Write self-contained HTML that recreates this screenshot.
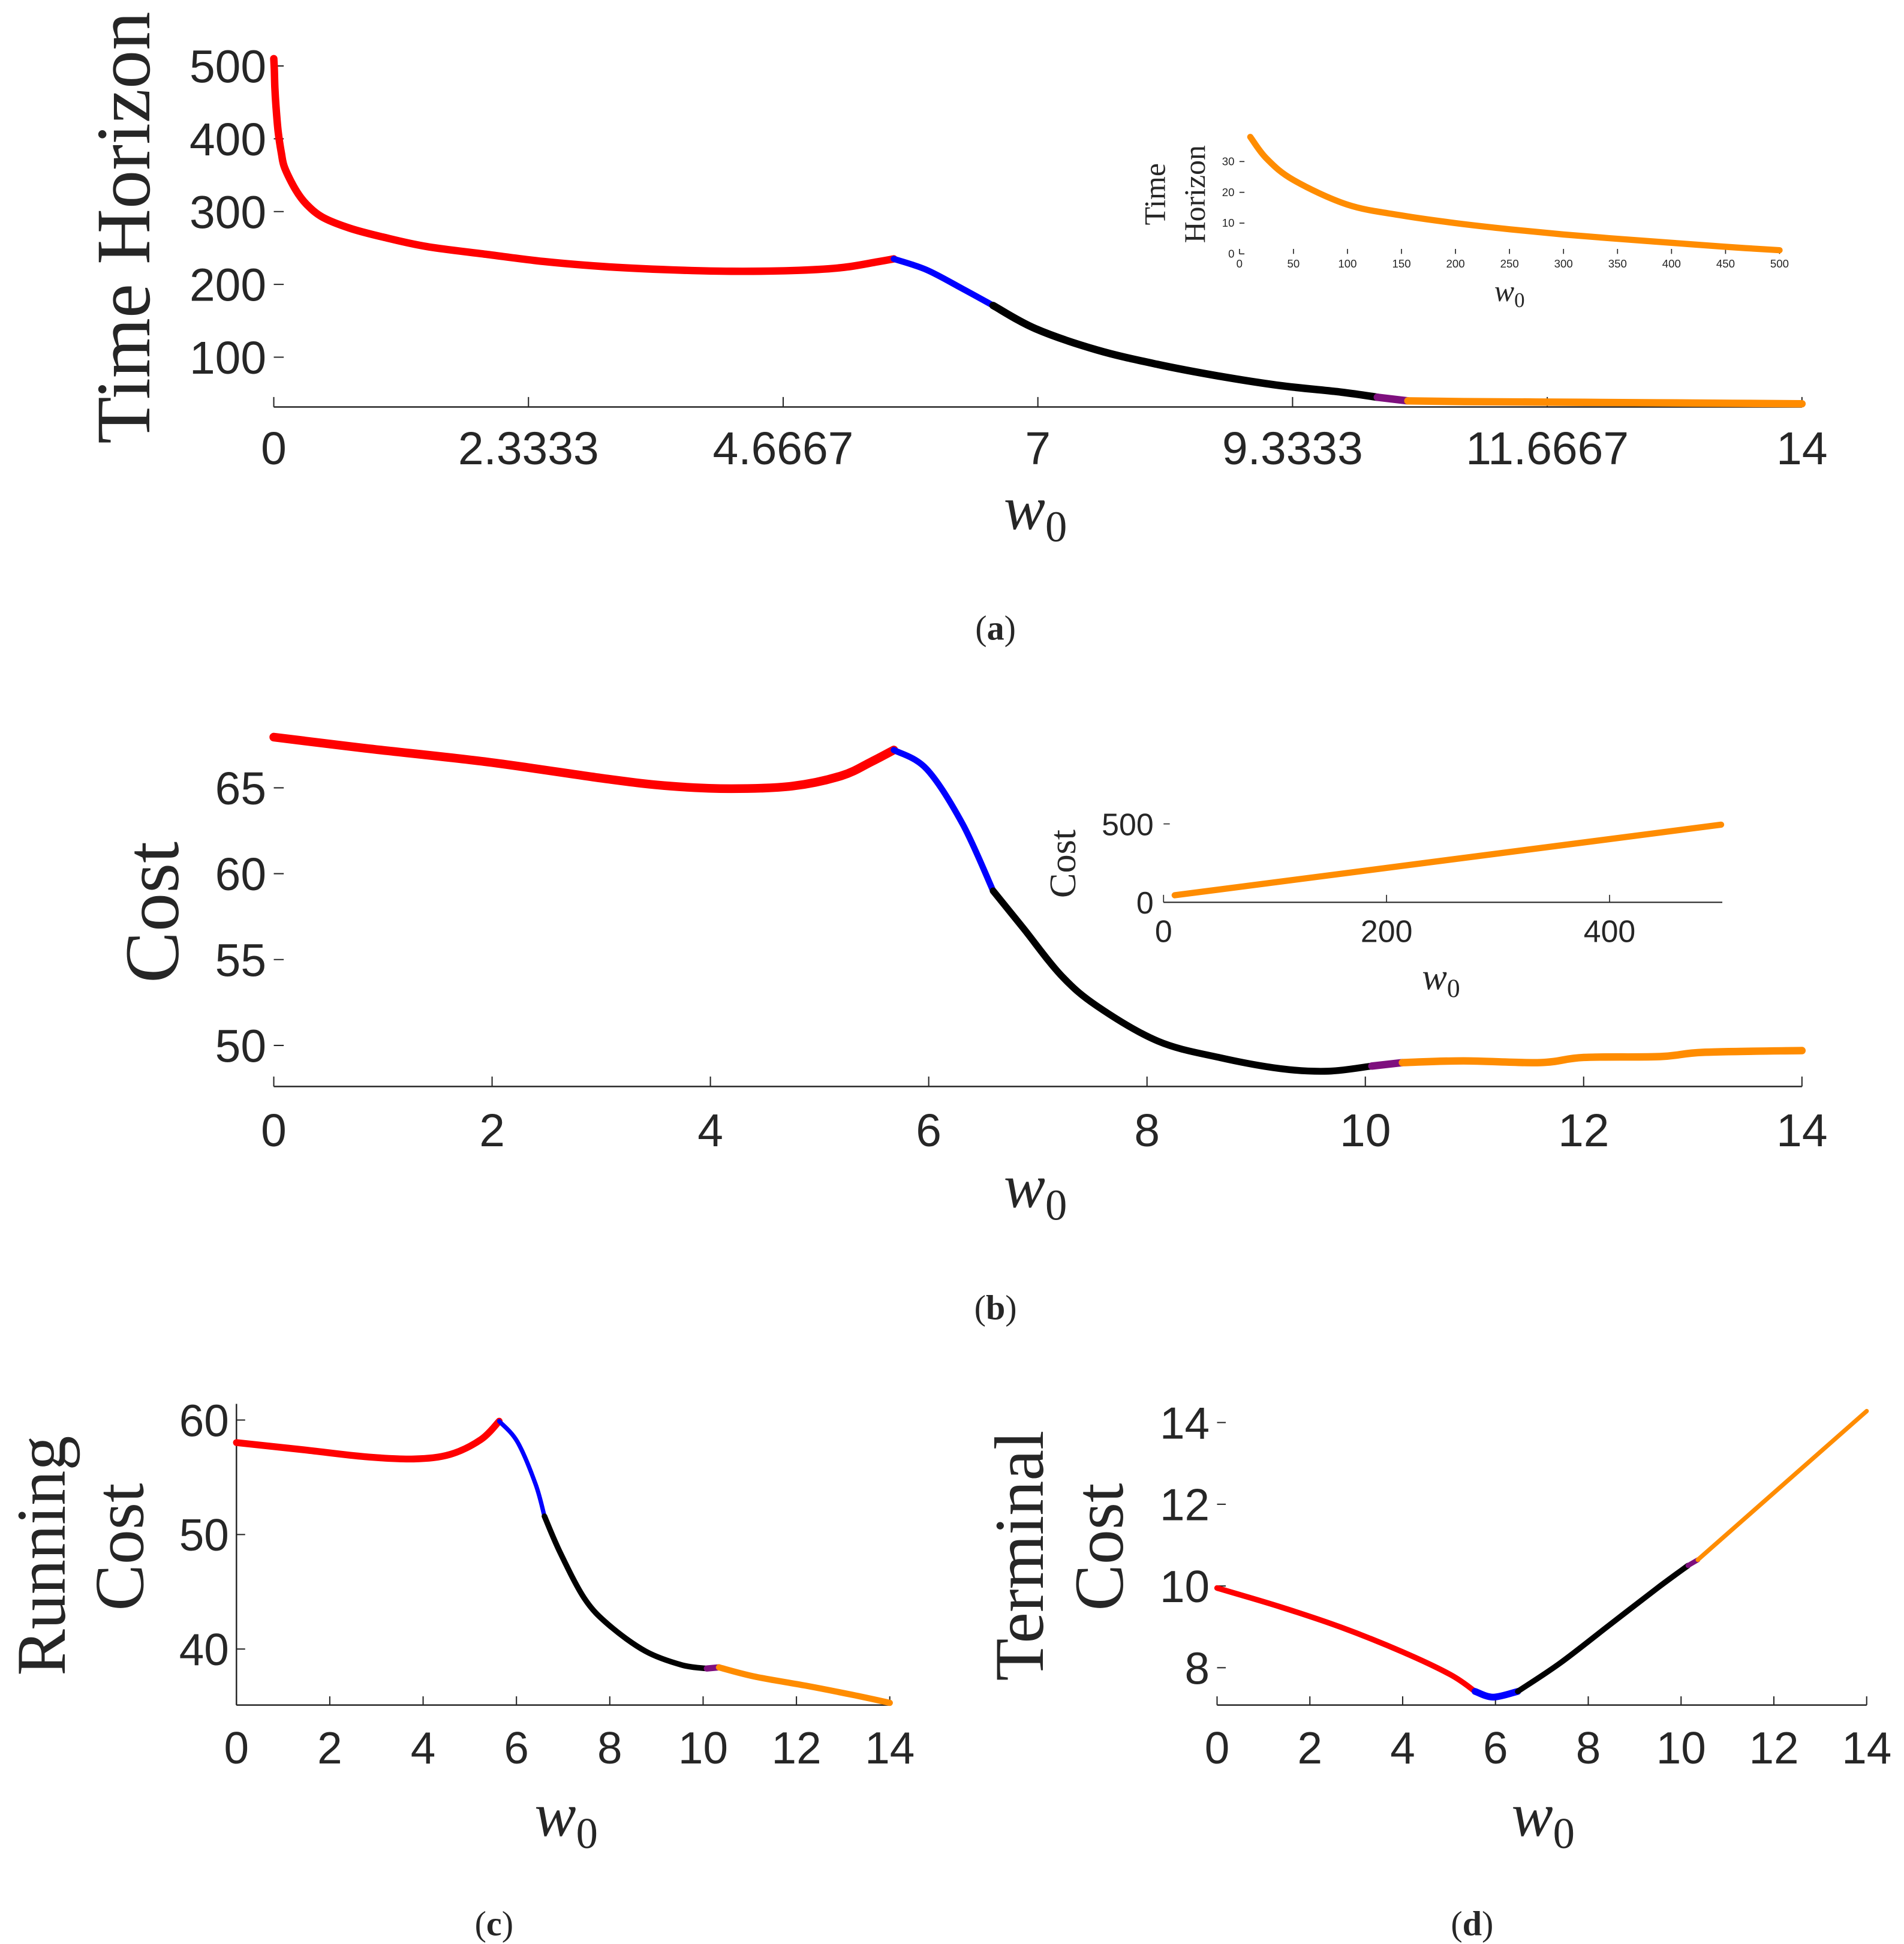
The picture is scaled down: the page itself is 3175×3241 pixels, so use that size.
<!DOCTYPE html>
<html><head><meta charset="utf-8"><style>
html,body{margin:0;padding:0;background:#fff}
svg{display:block}
text{font-family:"Liberation Sans",sans-serif;fill:#262626}
.lab{font-family:"Liberation Serif",serif;fill:#262626}
</style></head><body>
<svg id="fig" width="3175" height="3241" viewBox="0 0 1530 1562" preserveAspectRatio="none" xmlns="http://www.w3.org/2000/svg"></svg>
<script>
// ---- Panel (a) Time Horizon ----
const aRedX=[0,0.005,0.01,0.02,0.04,0.07,0.1,0.2,0.3,0.45,0.7,1.0,1.4,1.96,2.5,3.07,3.63,4.19,4.75,5.2,5.53,5.68];
const aRedY=[510,495,470,445,410,380,360,330,310,292,277,265,252,241,231,224,220,218,219,223,231,235];
const aBlueX=[5.68,5.98,6.31,6.59];
const aBlueY=[235,220,194,171];
const aBlackX=[6.59,6.98,7.54,8.1,8.66,9.22,9.78,10.11];
const aBlackY=[171,139,110,90,74,61,52,45];
const aPurpleX=[10.11,10.39];
const aPurpleY=[45,40];
const aOrangeX=[10.39,10.9,12,13,14];
const aOrangeY=[40,39,38,37,36];
const aTicksX=[0,2.3333,4.6667,7,9.3333,11.6667,14];
const aTickLabelsX=["0","2.3333","4.6667","7","9.3333","11.6667","14"];
const aTicksY=[100,200,300,400,500];
// inset (a)
const aiX=[10,25,50,100,150,200,250,300,350,400,450,500];
const aiY=[38,31,24,16,12.5,10,8,6.3,4.9,3.6,2.3,1.2];
const aiTicksX=[0,50,100,150,200,250,300,350,400,450,500];
const aiTicksY=[0,10,20,30];
// ---- Panel (b) Cost ----
const bRedX=[0,0.84,1.96,3.07,3.63,4.19,4.75,5.2,5.47,5.68];
const bRedY=[67.95,67.3,66.5,65.5,65.1,64.95,65.1,65.7,66.5,67.2];
const bBlueX=[5.68,5.98,6.31,6.59];
const bBlueY=[67.2,66.1,62.9,59];
const bBlackX=[6.59,6.87,7.21,7.54,8.1,8.66,9.22,9.66,10.06];
const bBlackY=[59,56.8,54.1,52.3,50.25,49.3,48.65,48.5,48.8];
const bPurpleX=[10.06,10.34];
const bPurpleY=[48.8,49.0];
const bOrangeX=[10.34,10.9,11.6,12.0,12.7,13.1,14];
const bOrangeY=[49.0,49.1,49.0,49.3,49.35,49.6,49.7];
const bTicksX=[0,2,4,6,8,10,12,14];
const bTicksY=[50,55,60,65];
const biX=[10,500];
const biY=[45,495];
const biTicksX=[0,200,400];
const biTicksY=[0,500];
// ---- Panel (c) Running Cost ----
const cRedX=[0,1.44,2.75,3.8,4.58,5.24,5.63];
const cRedY=[58.03,57.4,56.8,56.6,57.0,58.3,59.9];
const cBlueX=[5.63,6.02,6.41,6.6];
const cBlueY=[59.9,58.1,54.4,51.6];
const cBlackX=[6.6,6.94,7.46,7.98,8.77,9.55,10.08];
const cBlackY=[51.6,48.4,44.4,42.1,39.8,38.6,38.3];
const cPurpleX=[10.08,10.34];
const cPurpleY=[38.3,38.4];
const cOrangeX=[10.34,11.1,12.2,13.2,14];
const cOrangeY=[38.4,37.6,36.8,36.0,35.3];
const cTicksX=[0,2,4,6,8,10,12,14];
const cTicksY=[40,50,60];
// ---- Panel (d) Terminal Cost ----
const dRedX=[0,1.36,2.67,3.99,5.03,5.56];
const dRedY=[9.95,9.49,8.99,8.39,7.83,7.42];
const dBlueX=[5.56,5.95,6.48];
const dBlueY=[7.42,7.28,7.42];
const dBlackX=[6.48,7.39,8.44,9.49,10.15];
const dBlackY=[7.42,8.11,9.03,9.95,10.5];
const dPurpleX=[10.15,10.36];
const dPurpleY=[10.5,10.64];
const dOrangeX=[10.36,14];
const dOrangeY=[10.64,14.28];
const dTicksX=[0,2,4,6,8,10,12,14];
const dTicksY=[8,10,12,14];

const NS="http://www.w3.org/2000/svg";
const svg=document.getElementById('fig');
function mk(tag,attrs,parent,txt){const e=document.createElementNS(NS,tag);for(const k in attrs)e.setAttribute(k,attrs[k]);if(txt!==undefined)e.textContent=txt;(parent||svg).appendChild(e);return e;}
function lin(d0,d1,r0,r1){return v=>r0+(v-d0)*(r1-r0)/(d1-d0);}
function pathD(xs,ys,sx,sy){
  const p=xs.map((x,i)=>[sx(x),sy(ys[i])]);
  if(p.length<3){return 'M'+p.map(q=>q.join(',')).join('L');}
  let d='M'+p[0][0]+','+p[0][1];
  for(let i=0;i<p.length-1;i++){
    const p0=p[Math.max(0,i-1)],p1=p[i],p2=p[i+1],p3=p[Math.min(p.length-1,i+2)];
    const c1=[p1[0]+(p2[0]-p0[0])/6,p1[1]+(p2[1]-p0[1])/6];
    const c2=[p2[0]-(p3[0]-p1[0])/6,p2[1]-(p3[1]-p1[1])/6];
    d+='C'+c1.join(',')+' '+c2.join(',')+' '+p2.join(',');
  }
  return d;
}
function series(g,xs,ys,sx,sy,color,w,name){
  const e=mk('path',{d:pathD(xs,ys,sx,sy),fill:'none',stroke:color,'stroke-width':w,'stroke-linecap':'round','stroke-linejoin':'round'},g);
  
  
}
function axes(g,o){
  const b=mk('line',{x1:o.x0,x2:o.x1,y1:o.yb,y2:o.yb,stroke:'#262626','stroke-width':1.2},g);
  
  
  if(o.left){const l=mk('line',{x1:o.x0,x2:o.x0,y1:o.yt,y2:o.yb,stroke:'#262626','stroke-width':1.2},g);
    
    }
  o.tx.forEach((v,i)=>{
    const x=o.sx(v);
    mk('line',{x1:x,x2:x,y1:o.yb,y2:o.yb-o.tl,stroke:'#262626','stroke-width':1},g);
    const t=mk('text',{x:x,y:o.yb+o.tdy,'font-size':o.fs,'text-anchor':'middle'},g,o.txl?o.txl[i]:String(v));
    
    
  });
  o.ty.forEach(v=>{
    const y=o.sy(v);
    mk('line',{x1:o.x0,x2:o.x0+o.tl,y1:y,y2:y,stroke:'#262626','stroke-width':1},g);
    const t=mk('text',{x:o.x0-o.ydx,y:y+o.fs*0.36,'font-size':o.fs,'text-anchor':'end'},g,String(v));
    
    
  });
}
function label(g,txt,x,y,fs,rot,name,cls){
  const t=mk('text',{x:x,y:y,'font-size':fs,'text-anchor':'middle',class:cls||'lab',transform:rot?`rotate(-90 ${x} ${y})`:''},g,txt);
  
  
  return t;
}
function wlabel(g,x,y,fs,name){
  const t=mk('text',{x:x,y:y,'font-size':fs,'text-anchor':'middle',class:'lab','font-style':'italic'},g);
  
  
  mk('tspan',{},t,'w');
  mk('tspan',{'font-size':fs*0.7,'font-style':'normal',dy:fs*0.2},t,'0');
}
function caption(txt,letter,x,y,name){
  const t=mk('text',{x:x,y:y,'font-size':28,'text-anchor':'middle',class:'lab'},svg);
  
  
  mk('tspan',{},t,'(');mk('tspan',{'font-weight':'bold'},t,letter);mk('tspan',{},t,')');
}
const C={red:'#ff0000',blue:'#0000ff',black:'#000000',purple:'#7e0f7e',orange:'#ff8c00'};

// Panel a
(function(){
  const g=mk('g',{});
  const sx=lin(0,14,220,1448), sy=lin(100,500,287,53);
  axes(g,{x0:220,x1:1448,yb:327,sx,sy,tx:aTicksX,txl:aTickLabelsX,ty:aTicksY,fs:37,tl:8,tdy:46,ydx:6});
  series(g,aRedX,aRedY,sx,sy,C.red,6,'series-red');
  series(g,aBlueX,aBlueY,sx,sy,C.blue,5,'series-blue');
  series(g,aBlackX,aBlackY,sx,sy,C.black,6,'series-black');
  series(g,aPurpleX,aPurpleY,sx,sy,C.purple,6,'series-purple');
  series(g,aOrangeX,aOrangeY,sx,sy,C.orange,6,'series-orange');
  label(g,'Time Horizon',120,183,62,true,'y-axis-title');
  wlabel(g,832,425,50,'x-axis-title');
  const ig=mk('g',{},g);
  const isx=lin(0,500,996,1430), isy=lin(0,30,204,129.8);
  aiTicksX.forEach(v=>{const x=isx(v);mk('line',{x1:x,x2:x,y1:204,y2:200,stroke:'#262626','stroke-width':0.8},ig);
    const t=mk('text',{x:x,y:215,'font-size':9,'text-anchor':'middle'},ig,String(v));});
  aiTicksY.forEach(v=>{const y=isy(v);mk('line',{x1:996,x2:1000,y1:y,y2:y,stroke:'#262626','stroke-width':0.8},ig);
    const t=mk('text',{x:992,y:y+3,'font-size':9,'text-anchor':'end'},ig,String(v));});
  series(ig,aiX,aiY,isx,isy,C.orange,5,'inset-series-orange');
  label(ig,'Time',936,156,24,true,'inset-y-title-line1');
  label(ig,'Horizon',968,156,24,true,'inset-y-title-line2');
  wlabel(ig,1213,242,24,'inset-x-title');
})();
caption('(a)','a',800,514,'caption-a');

// Panel b
(function(){
  const g=mk('g',{});
  const sx=lin(0,14,220,1448), sy=lin(50,65,840,633);
  axes(g,{x0:220,x1:1448,yb:873,sx,sy,tx:bTicksX,ty:bTicksY,fs:37,tl:8,tdy:48,ydx:6});
  series(g,bRedX,bRedY,sx,sy,C.red,7,'series-red');
  series(g,bBlueX,bBlueY,sx,sy,C.blue,5,'series-blue');
  series(g,bBlackX,bBlackY,sx,sy,C.black,5.5,'series-black');
  series(g,bPurpleX,bPurpleY,sx,sy,C.purple,6,'series-purple');
  series(g,bOrangeX,bOrangeY,sx,sy,C.orange,6,'series-orange');
  label(g,'Cost',143,733,62,true,'y-axis-title');
  wlabel(g,832,970,50,'x-axis-title');
  const ig=mk('g',{},g);
  const isx=lin(0,500,935,1383), isy=lin(0,500,725,662);
  mk('line',{x1:935,x2:1384,y1:725,y2:725,stroke:'#262626','stroke-width':1},ig);
  biTicksX.forEach(v=>{const x=isx(v);mk('line',{x1:x,x2:x,y1:725,y2:719,stroke:'#262626','stroke-width':0.8},ig);
    const t=mk('text',{x:x,y:757,'font-size':25,'text-anchor':'middle'},ig,String(v));});
  biTicksY.forEach(v=>{const y=isy(v);mk('line',{x1:935,x2:940,y1:y,y2:y,stroke:'#262626','stroke-width':0.8},ig);
    const t=mk('text',{x:927,y:y+9,'font-size':25,'text-anchor':'end'},ig,String(v));});
  series(ig,biX,biY,isx,isy,C.orange,5,'inset-series-orange');
  label(ig,'Cost',864,694,30,true,'inset-y-title');
  wlabel(ig,1158,795,30,'inset-x-title');
})();
caption('(b)','b',800,1060,'caption-b');

// Panel c
(function(){
  const g=mk('g',{});
  const sx=lin(0,14,190,715), sy=lin(40,60,1325,1141);
  axes(g,{x0:190,x1:715,yb:1370,yt:1128,left:true,sx,sy,tx:cTicksX,ty:cTicksY,fs:36,tl:7,tdy:47,ydx:6});
  series(g,cRedX,cRedY,sx,sy,C.red,5.5,'series-red');
  series(g,cBlueX,cBlueY,sx,sy,C.blue,3.5,'series-blue');
  series(g,cBlackX,cBlackY,sx,sy,C.black,4.5,'series-black');
  series(g,cPurpleX,cPurpleY,sx,sy,C.purple,5,'series-purple');
  series(g,cOrangeX,cOrangeY,sx,sy,C.orange,5,'series-orange');
  label(g,'Running',52,1250,56,true,'y-axis-title-line1');
  label(g,'Cost',115,1243,56,true,'y-axis-title-line2');
  wlabel(g,455,1475,50,'x-axis-title');
})();
caption('(c)','c',397,1555,'caption-c');

// Panel d
(function(){
  const g=mk('g',{});
  const sx=lin(0,14,978,1500), sy=lin(8,14,1340,1143);
  axes(g,{x0:978,x1:1500,yb:1370,sx,sy,tx:dTicksX,ty:dTicksY,fs:36,tl:7,tdy:47,ydx:6});
  series(g,dRedX,dRedY,sx,sy,C.red,4.5,'series-red');
  series(g,dBlueX,dBlueY,sx,sy,C.blue,5.5,'series-blue');
  series(g,dBlackX,dBlackY,sx,sy,C.black,4.5,'series-black');
  series(g,dPurpleX,dPurpleY,sx,sy,C.purple,4,'series-purple');
  series(g,dOrangeX,dOrangeY,sx,sy,C.orange,3.5,'series-orange');
  label(g,'Terminal',838,1250,56,true,'y-axis-title-line1');
  label(g,'Cost',902,1243,56,true,'y-axis-title-line2');
  wlabel(g,1240,1475,50,'x-axis-title');
})();
caption('(d)','d',1183,1555,'caption-d');
</script>
</body></html>
